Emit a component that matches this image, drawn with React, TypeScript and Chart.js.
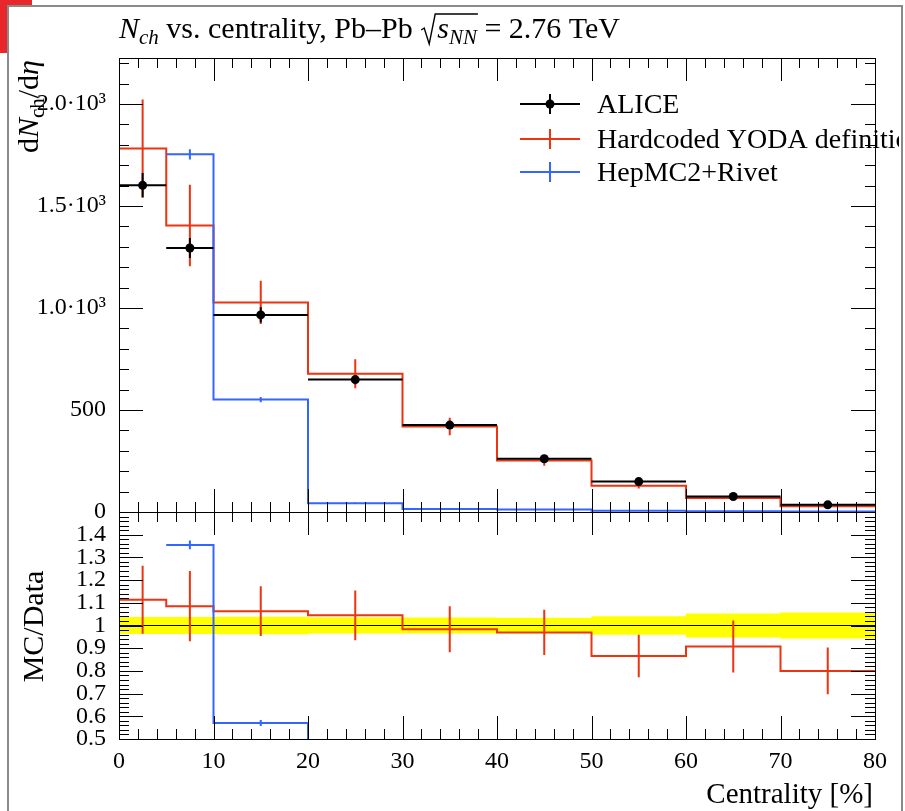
import React, { useEffect, useRef } from "react";
import { Chart, registerables } from "chart.js";

Chart.register(...registerables);

// ---------------- data ----------------
const binEdges = [0, 5, 10, 20, 30, 40, 50, 60, 70, 80];
const aliceValues = [1601, 1294, 966, 649, 426, 261, 149, 76, 35];
const aliceErrors = [60, 49, 37, 23, 15, 9, 6, 4, 2];
const yodaValues = [1782, 1404, 1027, 678, 419, 253, 129, 69, 28];
const yodaErrors = [240, 200, 106, 71, 43, 26, 14, 8.7, 3.6];
const rivetValues: (number | null)[] = [null, 1753, 551, 43, 15, 12, 6, 4, 2];
const rivetErrors: (number | null)[] = [null, 25, 13, 3, 2, 1, 1, 1, 1];

const xTickValues = [0, 10, 20, 30, 40, 50, 60, 70, 80];
const mainTickValues = [0, 500, 1000, 1500, 2000];
const mainTickLabels = ["0", "500", "1.0·10³", "1.5·10³", "2.0·10³"];
const ratioTickValues = [0.5, 0.6, 0.7, 0.8, 0.9, 1.0, 1.1, 1.2, 1.3, 1.4];
const ratioTickLabels = ["0.5", "0.6", "0.7", "0.8", "0.9", "1", "1.1", "1.2", "1.3", "1.4"];
const mainRange = [0, 2225];
const ratioRange = [0.5, 1.5];
const xRange = [0, 80];

const legendLabels = ["ALICE", "Hardcoded YODA definition", "HepMC2+Rivet"];

const BLACK = "#000000";
const RED = "#ee3311";
const BLUE = "#3366ff";
const YELLOW = "#ffff00";
const SERIF = "'Liberation Serif', 'DejaVu Serif', serif";

// ---------------- helpers ----------------
type P = { x: number; y: number | null };
const centers = binEdges.slice(0, -1).map((e, i) => (e + binEdges[i + 1]) / 2);

function stepPoints(vals: (number | null)[]): P[] {
  const pts: P[] = [];
  let last: number | null = null;
  vals.forEach((v, i) => {
    if (v == null) {
      if (last != null) {
        pts.push({ x: binEdges[i], y: last });
        pts.push({ x: binEdges[i], y: null });
      }
      last = null;
    } else {
      pts.push({ x: binEdges[i], y: v });
      last = v;
    }
  });
  if (last != null) pts.push({ x: binEdges[binEdges.length - 1], y: last });
  return pts;
}

function segmentPoints(vals: (number | null)[]): P[] {
  const pts: P[] = [];
  vals.forEach((v, i) => {
    if (v == null) return;
    pts.push({ x: binEdges[i], y: v }, { x: binEdges[i + 1], y: v }, { x: binEdges[i + 1], y: null });
  });
  return pts;
}

function errorPoints(vals: (number | null)[], errs: (number | null)[]): P[] {
  const pts: P[] = [];
  vals.forEach((v, i) => {
    const e = errs[i];
    if (v == null || e == null) return;
    pts.push({ x: centers[i], y: v - e }, { x: centers[i], y: v + e }, { x: centers[i], y: null });
  });
  return pts;
}

const yodaRatio = yodaValues.map((v, i) => v / aliceValues[i]);
const yodaRatioErr = yodaErrors.map((e, i) => e / aliceValues[i]);
const rivetRatio = rivetValues.map((v, i) => (v == null ? null : v / aliceValues[i]));
const rivetRatioErr = rivetErrors.map((e, i) => (e == null ? null : e / aliceValues[i]));
const bandUpper = aliceErrors.map((e, i) => 1 + e / aliceValues[i]);
const bandLower = aliceErrors.map((e, i) => 1 - e / aliceValues[i]);

function lineDs(data: P[], color: string, axis: string, width = 2, extra: any = {}) {
  return {
    type: "line",
    data,
    yAxisID: axis,
    borderColor: color,
    borderWidth: width,
    pointRadius: 0,
    pointHoverRadius: 0,
    fill: false,
    tension: 0,
    spanGaps: false,
    ...extra,
  };
}

// ---------------- decorations plugin ----------------
type Piece = { t: string; f: string; dy?: number };
function piecesWidth(ctx: CanvasRenderingContext2D, ps: Piece[]) {
  let w = 0;
  for (const p of ps) {
    ctx.font = p.f;
    w += ctx.measureText(p.t).width;
  }
  return w;
}
function drawPieces(ctx: CanvasRenderingContext2D, ps: Piece[], x: number, y: number) {
  let cx = x;
  for (const p of ps) {
    ctx.font = p.f;
    ctx.fillText(p.t, cx, y + (p.dy || 0));
    cx += ctx.measureText(p.t).width;
  }
  return cx;
}

const decoPlugin = {
  id: "deco",
  afterDraw(chart: any) {
    const ctx: CanvasRenderingContext2D = chart.ctx;
    const xs = chart.scales.x;
    const ym = chart.scales.y;
    const yr = chart.scales.yr;
    const L = chart.chartArea.left;
    const R = chart.chartArea.right;
    ctx.save();
    ctx.strokeStyle = BLACK;
    ctx.fillStyle = BLACK;
    ctx.lineWidth = 1;
    const seg = (x1: number, y1: number, x2: number, y2: number) => {
      ctx.beginPath();
      ctx.moveTo(x1, y1);
      ctx.lineTo(x2, y2);
      ctx.stroke();
    };
    // frames
    for (const s of [ym, yr]) {
      ctx.strokeRect(Math.round(L) + 0.5, Math.round(s.top) + 0.5, Math.round(R - L), Math.round(s.bottom - s.top));
    }
    // x ticks
    for (let v = xRange[0]; v <= xRange[1]; v += 2) {
      const px = Math.round(xs.getPixelForValue(v)) + 0.5;
      const len = v % 10 === 0 ? 23 : 10;
      for (const s of [ym, yr]) {
        seg(px, s.top, px, s.top + len);
        seg(px, s.bottom, px, s.bottom - len);
      }
    }
    // main y ticks
    for (let k = 0; k * 100 <= mainRange[1]; k++) {
      const py = Math.round(ym.getPixelForValue(k * 100)) + 0.5;
      const len = k % 5 === 0 ? 24 : 10;
      seg(L, py, L + len, py);
      seg(R, py, R - len, py);
    }
    // ratio y ticks
    for (let k = 0; k <= 50; k++) {
      const v = ratioRange[0] + k * 0.02;
      const py = Math.round(yr.getPixelForValue(v)) + 0.5;
      const len = k % 5 === 0 ? 24 : 10;
      seg(L, py, L + len, py);
      seg(R, py, R - len, py);
    }

    // title
    ctx.textAlign = "left";
    ctx.textBaseline = "alphabetic";
    const tf = `30px ${SERIF}`;
    const tfi = `italic 30px ${SERIF}`;
    const tsi = `italic 21px ${SERIF}`;
    let cx = drawPieces(
      ctx,
      [
        { t: "N", f: tfi },
        { t: "ch", f: tsi, dy: 6 },
        { t: " vs. centrality, Pb–Pb ", f: tf },
      ],
      119,
      38
    );
    // radical sign
    const by = 38;
    const rootPieces: Piece[] = [
      { t: "s", f: tfi },
      { t: "NN", f: tsi, dy: 6 },
    ];
    const rw = piecesWidth(ctx, rootPieces);
    ctx.lineWidth = 1.4;
    ctx.beginPath();
    ctx.moveTo(cx + 1, by - 8);
    ctx.lineTo(cx + 4, by - 10);
    ctx.lineTo(cx + 9, by + 6);
    ctx.lineTo(cx + 15, by - 24);
    ctx.lineTo(cx + 17 + rw + 1, by - 24);
    ctx.stroke();
    ctx.lineWidth = 1;
    cx = drawPieces(ctx, rootPieces, cx + 17, by);
    drawPieces(ctx, [{ t: " = 2.76 TeV", f: tf }], cx, by);

    // y axis title (main)
    const af = `30px ${SERIF}`;
    const afi = `italic 30px ${SERIF}`;
    const asub = `21px ${SERIF}`;
    const yTitle: Piece[] = [
      { t: "d", f: af },
      { t: "N", f: afi },
      { t: "ch", f: asub, dy: 6 },
      { t: "/d", f: af },
      { t: "η", f: afi },
    ];
    const yw = piecesWidth(ctx, yTitle);
    ctx.save();
    ctx.translate(38, 60);
    ctx.rotate(-Math.PI / 2);
    drawPieces(ctx, yTitle, -yw, 0);
    ctx.restore();

    // ratio y title
    ctx.save();
    ctx.translate(43, (yr.top + yr.bottom) / 2 + 1);
    ctx.rotate(-Math.PI / 2);
    ctx.textAlign = "center";
    ctx.font = `30px ${SERIF}`;
    ctx.fillText("MC/Data", 0, 0);
    ctx.restore();

    // x title
    ctx.textAlign = "right";
    ctx.font = `29px ${SERIF}`;
    ctx.fillText("Centrality [%]", 873, 803);

    // legend
    const rows = [104, 139, 172];
    const colors = [BLACK, RED, BLUE];
    ctx.save();
    ctx.beginPath();
    ctx.rect(0, 0, 899, 811);
    ctx.clip();
    rows.forEach((ry, i) => {
      ctx.strokeStyle = colors[i];
      ctx.lineWidth = 2;
      seg(520, ry, 580, ry);
      seg(550, ry - 10, 550, ry + 10);
      if (i === 0) {
        ctx.fillStyle = BLACK;
        ctx.beginPath();
        ctx.arc(550, ry, 4.5, 0, Math.PI * 2);
        ctx.fill();
      }
      ctx.fillStyle = BLACK;
      ctx.textAlign = "left";
      ctx.font = `28px ${SERIF}`;
      ctx.fillText(legendLabels[i], 597, ry + 9);
    });
    ctx.restore();
    ctx.restore();
  },
};

// ---------------- component ----------------
export default function App() {
  const ref = useRef<HTMLCanvasElement>(null);

  useEffect(() => {
    if (!ref.current) return;
    Chart.defaults.font.family = SERIF;
    Chart.defaults.color = BLACK;

    const datasets: any[] = [
      {
        type: "scatter",
        data: centers.map((c, i) => ({ x: c, y: aliceValues[i] })),
        yAxisID: "y",
        pointRadius: 4.5,
        pointHoverRadius: 4.5,
        backgroundColor: BLACK,
        borderWidth: 0,
        showLine: false,
      },
      lineDs(errorPoints(aliceValues, aliceErrors), BLACK, "y"),
      lineDs(segmentPoints(aliceValues), BLACK, "y"),
      lineDs(errorPoints(rivetValues, rivetErrors), BLUE, "y"),
      lineDs(stepPoints(rivetValues), BLUE, "y", 2, { stepped: true }),
      lineDs(errorPoints(yodaValues, yodaErrors), RED, "y"),
      lineDs(stepPoints(yodaValues), RED, "y", 2, { stepped: true }),
      lineDs(errorPoints(rivetRatio, rivetRatioErr), BLUE, "yr"),
      lineDs(stepPoints(rivetRatio), BLUE, "yr", 2, { stepped: true }),
      lineDs(errorPoints(yodaRatio, yodaRatioErr), RED, "yr"),
      lineDs(stepPoints(yodaRatio), RED, "yr", 2, { stepped: true }),
      lineDs(
        [
          { x: xRange[0], y: 1 },
          { x: xRange[1], y: 1 },
        ],
        BLACK,
        "yr",
        1
      ),
      lineDs(stepPoints(bandLower), "rgba(0,0,0,0)", "yr", 1, { stepped: true }),
      lineDs(stepPoints(bandUpper), "rgba(0,0,0,0)", "yr", 1, {
        stepped: true,
        fill: "-1",
        backgroundColor: YELLOW,
      }),
    ];

    const chart = new Chart(ref.current, {
      type: "line",
      data: { datasets },
      options: {
        animation: false,
        responsive: false,
        devicePixelRatio: 1,
        events: [],
        layout: { padding: { top: 58, right: 30, left: 0, bottom: 0 } },
        plugins: { legend: { display: false }, tooltip: { enabled: false } },
        scales: {
          x: {
            type: "linear",
            position: "bottom",
            min: xRange[0],
            max: xRange[1],
            grid: { display: false, drawTicks: false },
            border: { display: false },
            afterBuildTicks: (s: any) => {
              s.ticks = xTickValues.map((v) => ({ value: v }));
            },
            afterFit: (s: any) => {
              s.height = 72;
            },
            ticks: {
              autoSkip: false,
              maxRotation: 0,
              padding: 8,
              font: { size: 24, family: SERIF },
              color: BLACK,
              callback: (v: any) => String(v),
            },
          },
          yr: {
            type: "linear",
            position: "left",
            stack: "panels",
            stackWeight: 1,
            min: ratioRange[0],
            max: ratioRange[1],
            grid: { display: false, drawTicks: false },
            border: { display: false },
            afterBuildTicks: (s: any) => {
              s.ticks = ratioTickValues.map((v) => ({ value: v }));
            },
            afterFit: (s: any) => {
              s.width = 119;
            },
            ticks: {
              autoSkip: false,
              padding: 13,
              font: { size: 24, family: SERIF },
              color: BLACK,
              callback: (_v: any, i: number) => ratioTickLabels[i],
            },
          },
          y: {
            type: "linear",
            position: "left",
            stack: "panels",
            stackWeight: 2,
            min: mainRange[0],
            max: mainRange[1],
            grid: { display: false, drawTicks: false },
            border: { display: false },
            afterBuildTicks: (s: any) => {
              s.ticks = mainTickValues.map((v) => ({ value: v }));
            },
            afterFit: (s: any) => {
              s.width = 119;
            },
            ticks: {
              autoSkip: false,
              padding: 13,
              font: { size: 24, family: SERIF },
              color: BLACK,
              callback: (_v: any, i: number) => mainTickLabels[i],
            },
          },
        },
      } as any,
      plugins: [decoPlugin as any],
    } as any);

    return () => chart.destroy();
  }, []);

  return (
    <div
      style={{
        position: "fixed",
        left: 0,
        top: 0,
        width: 905,
        height: 811,
        overflow: "hidden",
        background: "#ffffff",
      }}
    >
      <div style={{ position: "absolute", left: 0, top: 0, width: 32, height: 53, background: "#e8262b" }} />
      <div
        style={{
          position: "absolute",
          left: 7,
          top: 5,
          width: 892,
          height: 830,
          border: "2px solid #8a8a8a",
          background: "#ffffff",
          boxSizing: "content-box",
        }}
      />
      <canvas
        ref={ref}
        width={905}
        height={811}
        style={{ position: "absolute", left: 0, top: 0, width: 905, height: 811 }}
      />
    </div>
  );
}
